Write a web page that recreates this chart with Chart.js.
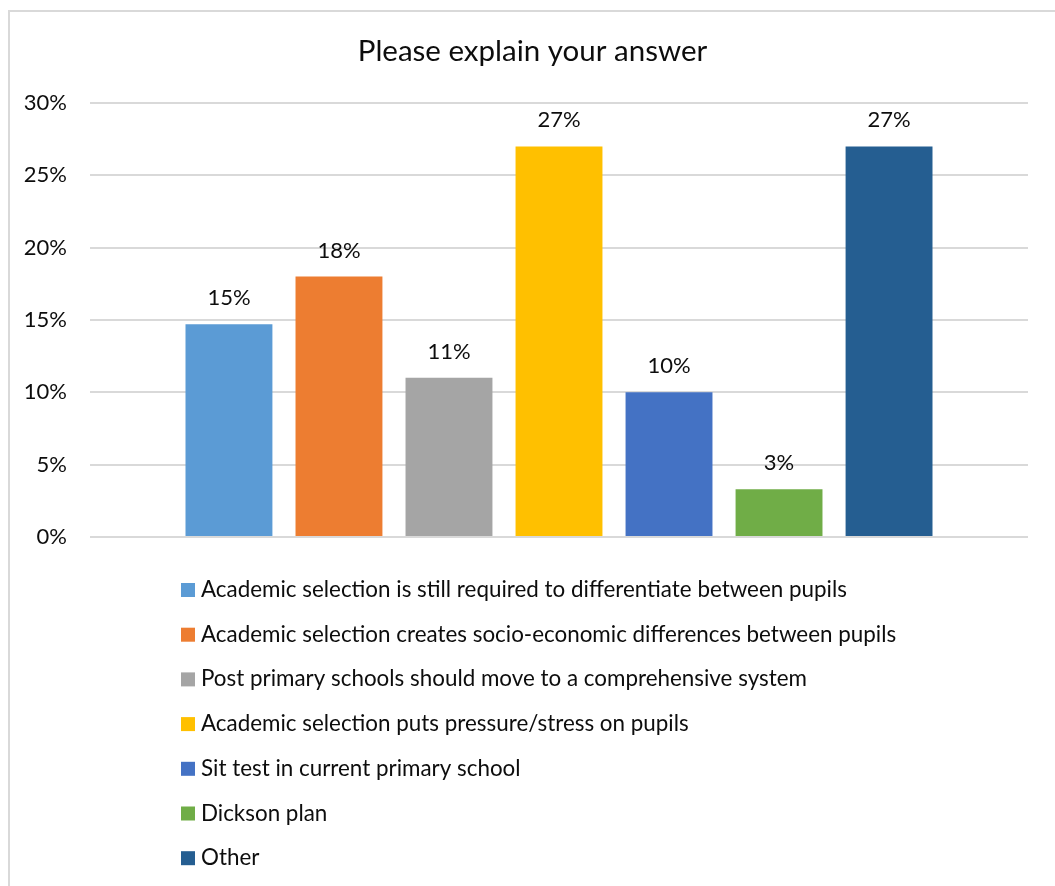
<!DOCTYPE html>
<html>
<head>
<meta charset="utf-8">
<script src="https://cdn.jsdelivr.net/npm/chart.js@4.4.1/dist/chart.umd.min.js"></script>
<style>
  html, body { margin: 0; padding: 0; background: #ffffff; width: 1055px; height: 886px; overflow: hidden; }
  #frame { position: absolute; left: 8px; top: 10px; width: 1100px; height: 950px; border: 2px solid #d9d9d9; box-sizing: border-box; }
  #c { position: absolute; left: 0; top: 0; }
</style>
</head>
<body>
<div id="frame"></div>
<canvas id="c" width="1055" height="886"></canvas>
<script>
const categories = [''];
const seriesNames = [
  'Academic selection is still required to differentiate between pupils',
  'Academic selection creates socio-economic differences between pupils',
  'Post primary schools should move to a comprehensive system',
  'Academic selection puts pressure/stress on pupils',
  'Sit test in current primary school',
  'Dickson plan',
  'Other'
];
const seriesValues = [14.7, 18, 11, 27, 10, 3.3, 27];
const seriesColors = ['#5B9BD5', '#ED7D31', '#A5A5A5', '#FFC000', '#4472C4', '#70AD47', '#255E91'];
const yTickValues = [0, 5, 10, 15, 20, 25, 30];
const yTickLabels = ['0%', '5%', '10%', '15%', '20%', '25%', '30%'];
const chartTitle = 'Please explain your answer';

const TEXT = '#0d0d0d';
const FONT = 'Lato';
Chart.defaults.font.family = FONT;

const frameTitle = {
  id: 'frameTitle',
  afterDraw(chart) {
    const ctx = chart.ctx;
    ctx.save();
    ctx.font = '29.5px ' + FONT;
    ctx.fillStyle = TEXT;
    ctx.textAlign = 'center';
    ctx.textBaseline = 'middle';
    ctx.fillText(chartTitle, (chart.width + 10) / 2, 51.7);
    ctx.restore();
  }
};

const valueLabels = {
  id: 'valueLabels',
  afterDatasetsDraw(chart) {
    const ctx = chart.ctx;
    ctx.save();
    ctx.font = '22px ' + FONT;
    ctx.fillStyle = TEXT;
    ctx.textAlign = 'center';
    ctx.textBaseline = 'alphabetic';
    chart.data.datasets.forEach((ds, i) => {
      const el = chart.getDatasetMeta(i).data[0];
      ctx.fillText(Math.round(ds.data[0]) + '%', el.x, el.y - 19);
    });
    ctx.restore();
  }
};

const stackedLegend = {
  id: 'stackedLegend',
  afterDraw(chart) {
    const ctx = chart.ctx;
    ctx.save();
    ctx.font = '22.4px ' + FONT;
    ctx.textAlign = 'left';
    ctx.textBaseline = 'alphabetic';
    chart.data.datasets.forEach((ds, i) => {
      const base = chart.chartArea.bottom + 60 + i * 44.7;
      ctx.fillStyle = ds.backgroundColor;
      ctx.fillRect(181, base - 14, 14, 14);
      ctx.fillStyle = TEXT;
      ctx.fillText(ds.label, 201, base);
    });
    ctx.restore();
  }
};

new Chart(document.getElementById('c'), {
  type: 'bar',
  data: {
    labels: categories,
    datasets: seriesNames.map((name, i) => ({
      label: name,
      data: [seriesValues[i]],
      backgroundColor: seriesColors[i],
      categoryPercentage: 0.821,
      barPercentage: 0.79
    }))
  },
  options: {
    responsive: false,
    animation: false,
    layout: { padding: { left: 8, right: 27, top: 103, bottom: 349 } },
    plugins: {
      legend: { display: false },
      tooltip: { enabled: false },
      title: { display: false }
    },
    scales: {
      x: { display: false },
      y: {
        min: 0,
        max: 30,
        afterBuildTicks(scale) { scale.ticks = yTickValues.map(v => ({ value: v })); },
        afterFit(scale) { scale.width = 82; },
        ticks: {
          padding: 23,
          color: TEXT,
          font: { size: 22 },
          callback: (v) => yTickLabels[yTickValues.indexOf(v)]
        },
        grid: { color: '#d9d9d9', lineWidth: 2, drawTicks: false },
        border: { display: false }
      }
    }
  },
  plugins: [frameTitle, valueLabels, stackedLegend]
});
</script>
</body>
</html>
